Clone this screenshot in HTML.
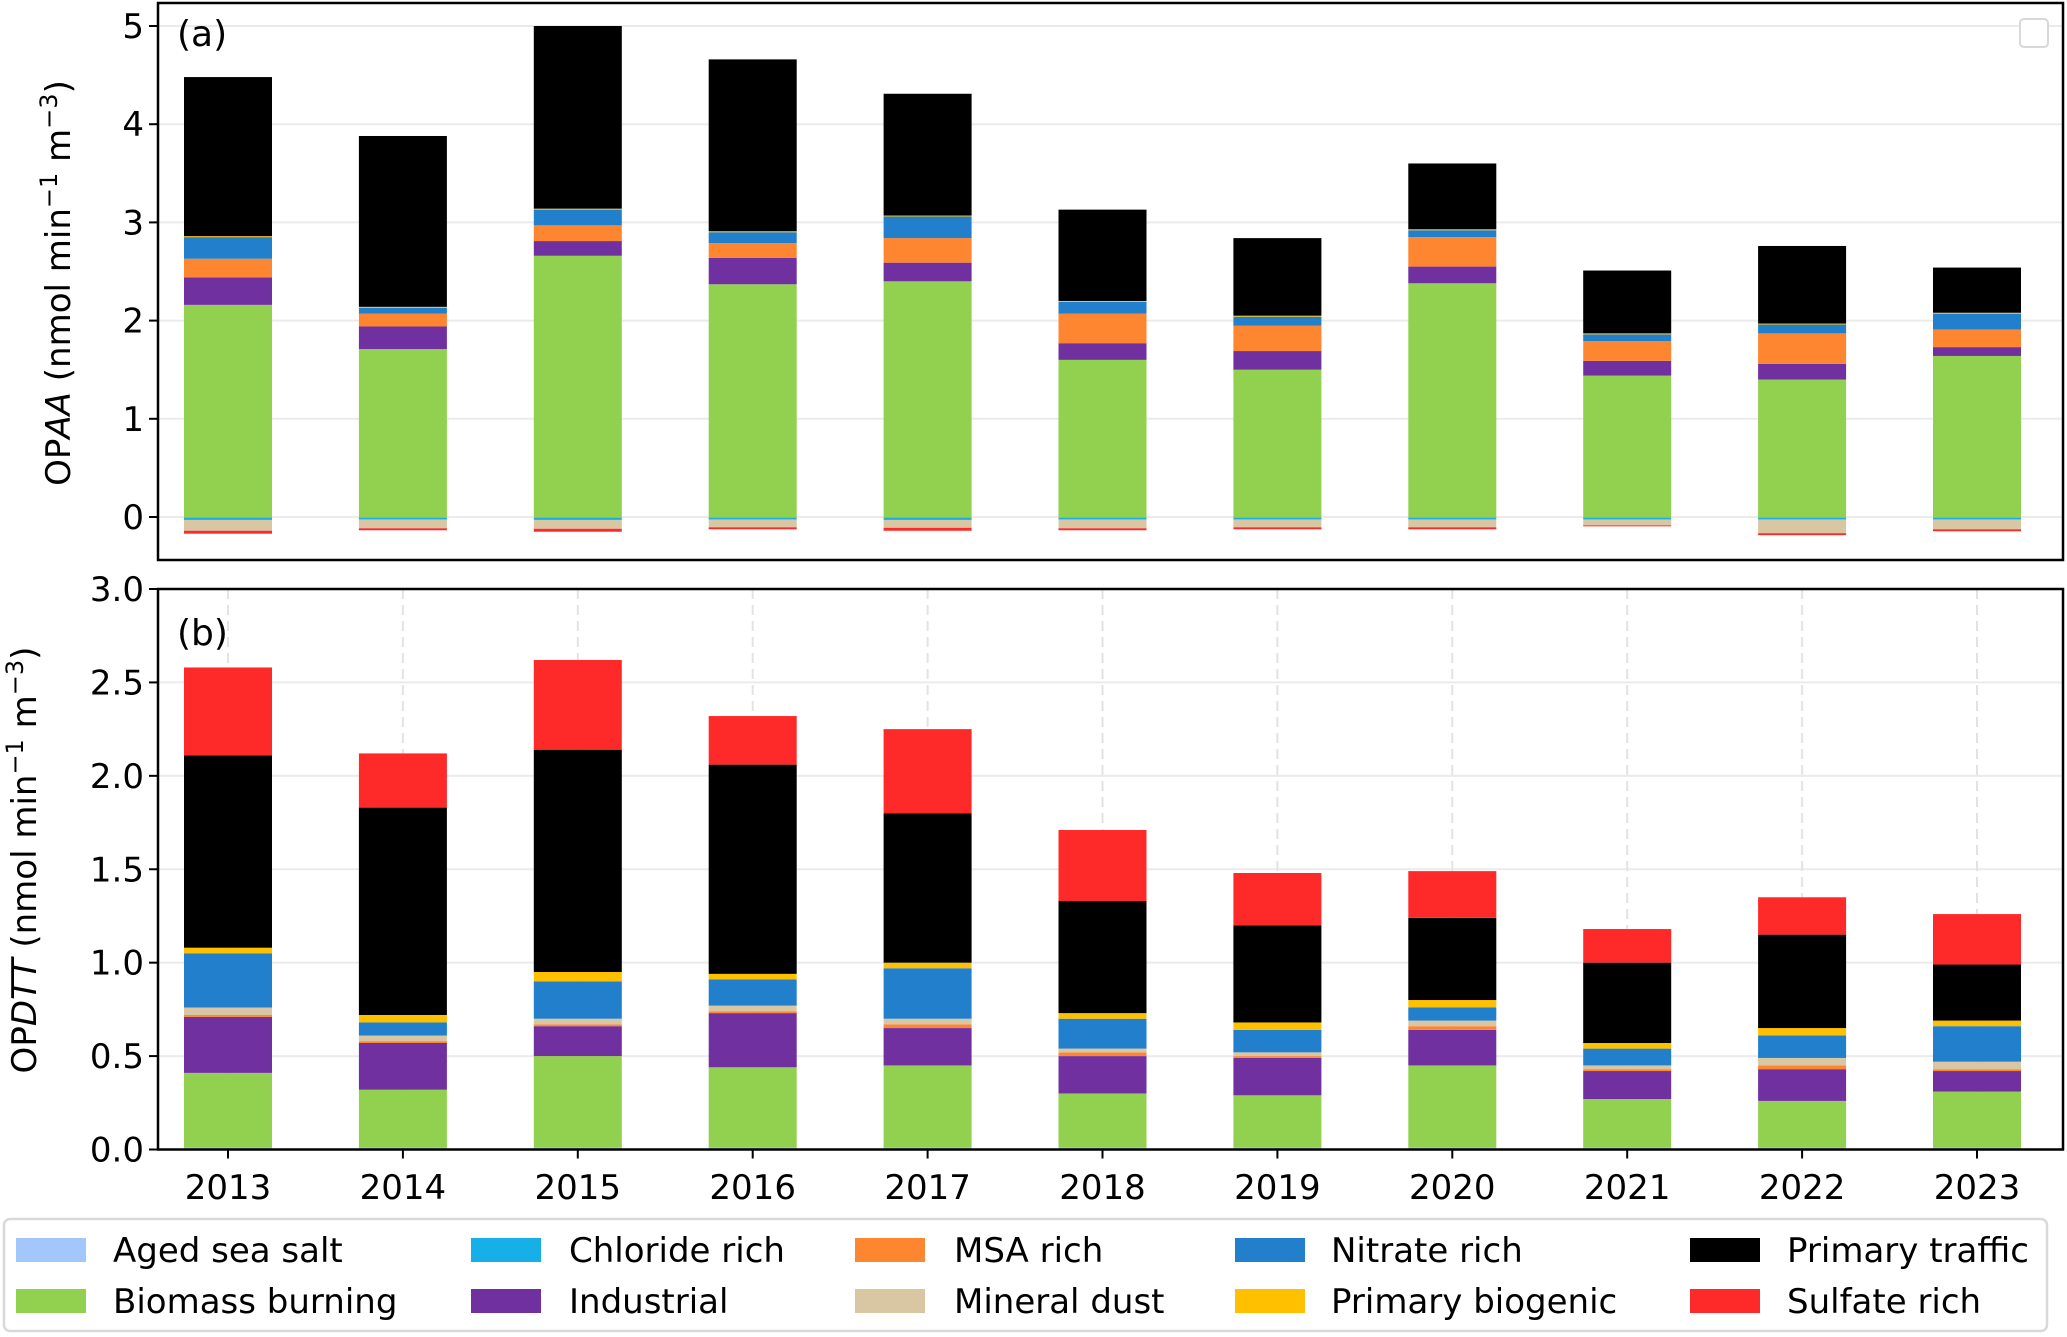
<!DOCTYPE html>
<html><head><meta charset="utf-8"><style>
html,body{margin:0;padding:0;background:#fff;}
svg{display:block;font-family:"DejaVu Sans","Liberation Sans",sans-serif;}
</style></head><body>
<svg id="chart" width="2067" height="1337" viewBox="0 0 2067 1337" xmlns="http://www.w3.org/2000/svg"></svg>
<script>
const years = ["2013","2014","2015","2016","2017","2018","2019","2020","2021","2022","2023"];
// Panel (a) OPAA components
const aBiomass = [2.16,1.71,2.66,2.37,2.40,1.60,1.50,2.38,1.44,1.40,1.64];
const aIndustrial = [0.28,0.23,0.15,0.27,0.19,0.17,0.19,0.17,0.15,0.16,0.09];
const aMsa = [0.19,0.13,0.16,0.15,0.25,0.30,0.26,0.30,0.20,0.31,0.18];
const aNitrate = [0.22,0.06,0.16,0.11,0.22,0.12,0.09,0.07,0.07,0.09,0.16];
const aBiogenic = [0.01,0.01,0.01,0.01,0.01,0.01,0.01,0.01,0.01,0.01,0.01];
const aTraffic = [1.62,1.74,1.86,1.75,1.24,0.93,0.79,0.67,0.64,0.79,0.46];
const aSeaSalt = [-0.005,-0.005,-0.005,-0.005,-0.005,-0.005,-0.005,-0.005,-0.005,-0.005,-0.005];
const aChloride = [-0.025,-0.02,-0.025,-0.02,-0.025,-0.02,-0.02,-0.02,-0.02,-0.02,-0.02];
const aDust = [-0.11,-0.09,-0.09,-0.08,-0.08,-0.09,-0.08,-0.08,-0.06,-0.14,-0.10];
const aSulfate = [-0.03,-0.02,-0.03,-0.02,-0.03,-0.02,-0.02,-0.02,-0.01,-0.02,-0.02];
const aTicks = [0,1,2,3,4,5];
// Panel (b) OPDTT components
const bSeaSalt = [0.01,0.01,0.01,0.01,0.01,0.01,0.01,0.01,0.01,0.01,0.01];
const bBiomass = [0.40,0.31,0.49,0.43,0.44,0.29,0.28,0.44,0.26,0.25,0.30];
const bIndustrial = [0.30,0.25,0.16,0.29,0.20,0.20,0.20,0.19,0.15,0.17,0.11];
const bMsa = [0.01,0.01,0.01,0.01,0.02,0.02,0.01,0.02,0.01,0.02,0.01];
const bDust = [0.04,0.03,0.03,0.03,0.03,0.02,0.02,0.03,0.02,0.04,0.04];
const bNitrate = [0.29,0.07,0.20,0.14,0.27,0.16,0.12,0.07,0.09,0.12,0.19];
const bBiogenic = [0.03,0.04,0.05,0.03,0.03,0.03,0.04,0.04,0.03,0.04,0.03];
const bTraffic = [1.03,1.11,1.19,1.12,0.80,0.60,0.52,0.44,0.43,0.50,0.30];
const bSulfate = [0.47,0.29,0.48,0.26,0.45,0.38,0.28,0.25,0.18,0.20,0.27];
const bTicks = [0,0.5,1.0,1.5,2.0,2.5,3.0];

const C = {seasalt:"#a3c6fb",chloride:"#17afe8",msa:"#fe8630",nitrate:"#217fcb",traffic:"#000000",
  biomass:"#92d050",industrial:"#7030a0",dust:"#d9c6a2",biogenic:"#ffc000",sulfate:"#fe2a2a"};
const NS="http://www.w3.org/2000/svg";
const svg=document.getElementById("chart");
function el(tag,attrs,parent){const e=document.createElementNS(NS,tag);for(const k in attrs)e.setAttribute(k,attrs[k]);(parent||svg).appendChild(e);return e;}

const L=158,R=2063;
const x0=228, xStep=174.9, barW=88;
function xPos(i){return x0+i*xStep;}
const aTop=3,aBot=560;
function yA(v){return 517-v*98.2;}
const bTop=589,bBot=1149.5;
function yB(v){return 1149.5-v*(560.5/3);}

function drawPanel(name,top,bot,yf,ticks,fmt,vgrid){
  const g=el("g",{});
  
  
  ticks.forEach(t=>{
    const gl=el("line",{x1:L,x2:R,y1:yf(t),y2:yf(t),stroke:"#ebebeb","stroke-width":2},g);
    
    
    const tk=el("line",{x1:L-9,x2:L,y1:yf(t),y2:yf(t),stroke:"#000","stroke-width":2},g);
    
    
    const tl=el("text",{x:L-14,y:yf(t)+12,"text-anchor":"end","font-size":34},g);
    tl.textContent=fmt(t);
    
    
  });
  if(vgrid){years.forEach((y,i)=>{
    const vl=el("line",{x1:xPos(i),x2:xPos(i),y1:top,y2:bot,stroke:"#e3e3e3","stroke-width":2,"stroke-dasharray":"10,6"},g);
    
    
  });}
  return g;
}
function stack(g,series,yf){
  years.forEach((y,i)=>{
    let pos=0,neg=0;
    series.forEach(([arr,col,nm])=>{
      const v=arr[i];let y1,y2;
      if(v>=0){y1=yf(pos+v);y2=yf(pos);pos+=v;}else{y1=yf(neg);y2=yf(neg+v);neg+=v;}
      const r=el("rect",{x:xPos(i)-barW/2,y:y1,width:barW,height:Math.max(0,y2-y1),fill:col},g);
      
      
    });
  });
}
const ga=drawPanel("opaa",aTop,aBot,yA,aTicks,t=>String(t),false);
stack(ga,[[aBiomass,C.biomass,"biomass"],[aIndustrial,C.industrial,"industrial"],[aMsa,C.msa,"msa"],[aNitrate,C.nitrate,"nitrate"],[aBiogenic,C.biogenic,"biogenic"],[aTraffic,C.traffic,"traffic"],
  [aSeaSalt,C.seasalt,"seasalt"],[aChloride,C.chloride,"chloride"],[aDust,C.dust,"dust"],[aSulfate,C.sulfate,"sulfate"]],yA);
const gb=drawPanel("opdtt",bTop,bBot,yB,bTicks,t=>t.toFixed(1),true);
stack(gb,[[bSeaSalt,C.seasalt,"seasalt"],[bBiomass,C.biomass,"biomass"],[bIndustrial,C.industrial,"industrial"],[bMsa,C.msa,"msa"],[bDust,C.dust,"dust"],[bNitrate,C.nitrate,"nitrate"],[bBiogenic,C.biogenic,"biogenic"],[bTraffic,C.traffic,"traffic"],[bSulfate,C.sulfate,"sulfate"]],yB);
years.forEach((y,i)=>{
  const tk=el("line",{x1:xPos(i),x2:xPos(i),y1:bBot,y2:bBot+9,stroke:"#000","stroke-width":2});
  
  
  const t=el("text",{x:xPos(i),y:1199,"text-anchor":"middle","font-size":34});
  t.textContent=y;
  
  
});
</script>
<svg style="position:absolute;left:0;top:0" width="2067" height="1337">
  <rect x="158" y="3" width="1905" height="557" fill="none" stroke="#000" stroke-width="2.5"/>
  <rect x="158" y="589" width="1905" height="560.5" fill="none" stroke="#000" stroke-width="2.5"/>
  <rect x="2020" y="19" width="28" height="28" rx="4" fill="#fff" stroke="#d8d8d8" stroke-width="2"/>
  <text x="177" y="46" font-size="36" font-family="DejaVu Sans, Liberation Sans, sans-serif">(a)</text>
  <text x="177" y="645" font-size="36" font-family="DejaVu Sans, Liberation Sans, sans-serif">(b)</text>
  <text transform="translate(70,283) rotate(-90)" text-anchor="middle" font-size="34" font-family="DejaVu Sans, Liberation Sans, sans-serif">OP<tspan font-style="italic">AA</tspan> (nmol min<tspan font-size="24" dy="-13">−1</tspan><tspan dy="13"> m</tspan><tspan font-size="24" dy="-13">−3</tspan><tspan dy="13">)</tspan></text>
  <text transform="translate(36,860) rotate(-90)" text-anchor="middle" font-size="34" font-family="DejaVu Sans, Liberation Sans, sans-serif">OP<tspan font-style="italic">DTT</tspan> (nmol min<tspan font-size="24" dy="-13">−1</tspan><tspan dy="13"> m</tspan><tspan font-size="24" dy="-13">−3</tspan><tspan dy="13">)</tspan></text>
  <g font-size="34" font-family="DejaVu Sans, Liberation Sans, sans-serif">
    <rect x="4" y="1219" width="2043" height="112" rx="6" fill="#fff" stroke="#d9d9d9" stroke-width="2.5"/>
    <g><rect x="16" y="1238" width="70" height="24" fill="#a3c6fb"/><text x="113" y="1262">Aged sea salt</text></g>
    <g><rect x="16" y="1289" width="70" height="24" fill="#92d050"/><text x="113" y="1313">Biomass burning</text></g>
    <g><rect x="471" y="1238" width="70" height="24" fill="#17afe8"/><text x="569" y="1262">Chloride rich</text></g>
    <g><rect x="471" y="1289" width="70" height="24" fill="#7030a0"/><text x="569" y="1313">Industrial</text></g>
    <g><rect x="855" y="1238" width="70" height="24" fill="#fe8630"/><text x="954" y="1262">MSA rich</text></g>
    <g><rect x="855" y="1289" width="70" height="24" fill="#d9c6a2"/><text x="954" y="1313">Mineral dust</text></g>
    <g><rect x="1235" y="1238" width="70" height="24" fill="#217fcb"/><text x="1331" y="1262">Nitrate rich</text></g>
    <g><rect x="1235" y="1289" width="70" height="24" fill="#ffc000"/><text x="1331" y="1313">Primary biogenic</text></g>
    <g><rect x="1690" y="1238" width="70" height="24" fill="#000"/><text x="1787" y="1262">Primary traffic</text></g>
    <g><rect x="1690" y="1289" width="70" height="24" fill="#fe2a2a"/><text x="1787" y="1313">Sulfate rich</text></g>
  </g>
</svg>
</body></html>
